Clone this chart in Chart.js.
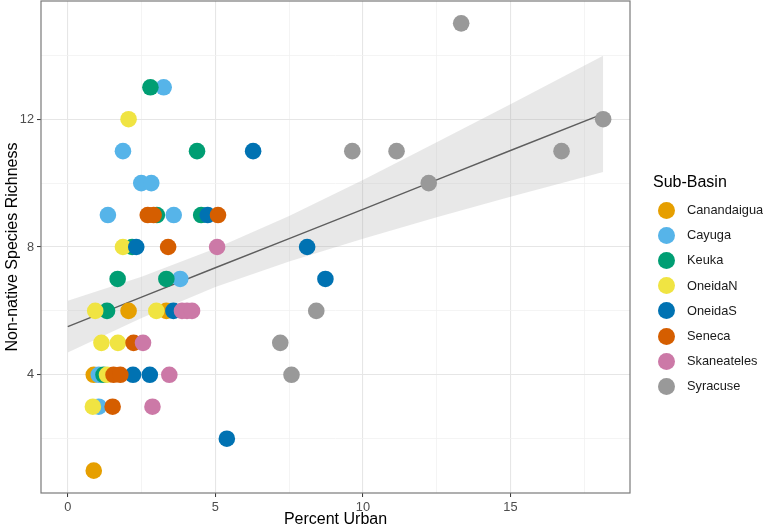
<!DOCTYPE html>
<html lang="en">
<head>
<meta charset="UTF-8">
<title>Non-native Species Richness vs Percent Urban</title>
<script src="https://cdn.jsdelivr.net/npm/chart.js"></script>
<style>
    body {
        margin: 0;
        background: #fff;
        font-family: "Liberation Sans", Arial, sans-serif;
    }
    #wrap {
        position: relative;
        width: 763px;
        height: 529px;
    }
    #chart {
        display: block;
    }
    #legend {
        position: absolute;
        left: 653px;
        top: 0;
    }
    #legend .title {
        position: absolute;
        left: 0;
        top: 172px;
        font-size: 16px;
        line-height: 19px;
        color: #000;
        white-space: nowrap;
    }
    #legend .item {
        position: absolute;
        left: 0;
        height: 18px;
        line-height: 18px;
        font-size: 12.8px;
        color: #1a1a1a;
        white-space: nowrap;
    }
    #legend .dot {
        position: absolute;
        left: 4.5px;
        top: 0.5px;
        width: 17px;
        height: 17px;
        border-radius: 50%;
    }
    #legend .label {
        position: absolute;
        left: 34px;
        top: 0;
    }
</style>
</head>
<body>
<div id="wrap">
    <canvas id="chart" width="763" height="529"></canvas>
    <div id="legend"></div>
</div>

<script>
    // sub-basins, in legend order, and their colours
    const subBasins = ['Canandaigua', 'Cayuga', 'Keuka', 'OneidaN', 'OneidaS', 'Seneca', 'Skaneateles', 'Syracuse'];
    const basinColors = ['#E69F00', '#56B4E9', '#009E73', '#F0E442', '#0072B2', '#D55E00', '#CC79A7', '#999999'];

    // points: percent urban (x) and richness (y)
    const canandaiguaX = [2.06, 3.34, 0.88, 0.88];
    const canandaiguaY = [6, 6, 4, 1];
    const cayugaX = [3.25, 1.87, 2.49, 2.83, 1.36, 3.59, 3.81, 1.05, 1.05];
    const cayugaY = [13, 11, 10, 10, 9, 9, 7, 4, 3];
    const keukaX = [2.8, 4.38, 3.02, 4.52, 2.18, 1.69, 3.34, 1.33, 1.21];
    const keukaY = [13, 11, 9, 9, 8, 7, 7, 6, 4];
    const oneidaNX = [2.06, 1.87, 0.93, 3.0, 1.14, 1.70, 1.33, 0.85];
    const oneidaNY = [12, 8, 6, 6, 5, 5, 4, 3];
    const oneidaSX = [6.28, 4.74, 2.32, 8.11, 8.73, 3.58, 2.21, 2.78, 5.39];
    const oneidaSY = [11, 9, 8, 8, 7, 6, 4, 4, 2];
    const senecaX = [2.71, 2.91, 5.09, 3.4, 2.23, 1.55, 1.78, 1.52];
    const senecaY = [9, 9, 9, 8, 5, 4, 4, 3];
    const skaneatelesX = [5.06, 3.87, 4.04, 4.21, 2.55, 3.44, 2.87];
    const skaneatelesY = [8, 6, 6, 6, 5, 4, 3];
    const syracuseX = [13.33, 18.14, 9.64, 11.14, 16.73, 12.23, 8.42, 7.2, 7.58];
    const syracuseY = [15, 12, 11, 11, 11, 10, 6, 5, 4];

    // linear fit and its confidence band
    const fitX = [0, 2.5, 5, 7.5, 10, 12.5, 15, 18.14];
    const fitY = [5.51, 6.43, 7.35, 8.26, 9.18, 10.10, 11.02, 12.17];
    const bandLow = [4.70, 5.78, 6.75, 7.55, 8.26, 8.93, 9.57, 10.35];
    const bandHigh = [6.32, 7.07, 7.95, 8.97, 10.10, 11.28, 12.47, 13.99];

    // axis breaks
    const xMajor = [0, 5, 10, 15];
    const xMinor = [2.5, 7.5, 12.5, 17.5];
    const yMajor = [4, 8, 12];
    const yMinor = [2, 6, 10, 14];

    const seriesX = [canandaiguaX, cayugaX, keukaX, oneidaNX, oneidaSX, senecaX, skaneatelesX, syracuseX];
    const seriesY = [canandaiguaY, cayugaY, keukaY, oneidaNY, oneidaSY, senecaY, skaneatelesY, syracuseY];

    function toPoints(xs, ys) {
        return xs.map((x, i) => ({ x: x, y: ys[i] }));
    }

    const datasets = subBasins.map((name, i) => ({
        type: 'scatter',
        label: name,
        data: toPoints(seriesX[i], seriesY[i]),
        backgroundColor: basinColors[i],
        borderColor: basinColors[i],
        borderWidth: 0,
        pointRadius: 8.3,
        pointHoverRadius: 8.3,
        order: subBasins.length - i   // later basins drawn on top
    }));

    datasets.push({
        type: 'line',
        label: 'fit',
        data: toPoints(fitX, fitY),
        borderColor: '#5e5e5e',
        borderWidth: 1.4,
        pointRadius: 0,
        fill: false,
        order: 20
    });
    datasets.push({
        type: 'line',
        label: 'upper',
        data: toPoints(fitX, bandHigh),
        borderWidth: 0,
        borderColor: 'rgba(0,0,0,0)',
        backgroundColor: 'rgba(160,160,160,0.24)',
        pointRadius: 0,
        fill: '+1',
        order: 30
    });
    datasets.push({
        type: 'line',
        label: 'lower',
        data: toPoints(fitX, bandLow),
        borderWidth: 0,
        borderColor: 'rgba(0,0,0,0)',
        pointRadius: 0,
        fill: false,
        order: 31
    });

    const isMajor = (list, v) => list.some(m => Math.abs(m - v) < 1e-6);

    // grey panel border on all four sides
    const panelBorder = {
        id: 'panelBorder',
        afterDraw(chart) {
            const a = chart.chartArea;
            const ctx = chart.ctx;
            ctx.save();
            ctx.strokeStyle = '#7a7a7a';
            ctx.lineWidth = 1.2;
            ctx.strokeRect(a.left, a.top, a.right - a.left, a.bottom - a.top);
            ctx.restore();
        }
    };

    const tickFont = { family: '"Liberation Sans", Arial, sans-serif', size: 12.8 };
    const titleFont = { family: '"Liberation Sans", Arial, sans-serif', size: 16 };

    new Chart(document.getElementById('chart'), {
        type: 'scatter',
        data: { datasets: datasets },
        options: {
            responsive: false,
            animation: false,
            devicePixelRatio: 1,
            layout: {
                autoPadding: false,
                padding: { top: 1, right: 133, left: 0, bottom: 0 }
            },
            plugins: {
                legend: { display: false },
                tooltip: { enabled: false }
            },
            scales: {
                x: {
                    type: 'linear',
                    min: -0.907,
                    max: 19.05,
                    afterBuildTicks: axis => {
                        axis.ticks = xMajor.concat(xMinor).sort((a, b) => a - b).map(v => ({ value: v }));
                    },
                    afterFit: axis => {
                        axis.height = 36;
                        axis.paddingLeft = 0;
                        axis.paddingRight = 0;
                    },
                    ticks: {
                        autoSkip: false,
                        maxRotation: 0,
                        padding: 3,
                        color: '#4d4d4d',
                        font: tickFont,
                        callback: v => isMajor(xMajor, v) ? String(v) : ''
                    },
                    grid: {
                        color: ctx => isMajor(xMajor, ctx.tick.value) ? '#e6e6e6' : '#f1f1f1',
                        lineWidth: ctx => isMajor(xMajor, ctx.tick.value) ? 1.1 : 0.8,
                        tickLength: 4,
                        tickColor: ctx => isMajor(xMajor, ctx.tick.value) ? '#333333' : 'rgba(0,0,0,0)',
                        tickWidth: 1
                    },
                    border: { display: false },
                    title: {
                        display: true,
                        text: 'Percent Urban',
                        color: '#000',
                        font: titleFont,
                        padding: { top: 0, bottom: 0 }
                    }
                },
                y: {
                    type: 'linear',
                    min: 0.3,
                    max: 15.7,
                    afterBuildTicks: axis => {
                        axis.ticks = yMajor.concat(yMinor).sort((a, b) => a - b).map(v => ({ value: v }));
                    },
                    afterFit: axis => {
                        axis.width = 41;
                        axis.paddingTop = 0;
                        axis.paddingBottom = 0;
                    },
                    ticks: {
                        autoSkip: false,
                        padding: 3,
                        color: '#4d4d4d',
                        font: tickFont,
                        callback: v => isMajor(yMajor, v) ? String(v) : ''
                    },
                    grid: {
                        color: ctx => isMajor(yMajor, ctx.tick.value) ? '#e6e6e6' : '#f1f1f1',
                        lineWidth: ctx => isMajor(yMajor, ctx.tick.value) ? 1.1 : 0.8,
                        tickLength: 4,
                        tickColor: ctx => isMajor(yMajor, ctx.tick.value) ? '#333333' : 'rgba(0,0,0,0)',
                        tickWidth: 1
                    },
                    border: { display: false },
                    title: {
                        display: true,
                        text: 'Non-native Species Richness',
                        color: '#000',
                        font: titleFont,
                        padding: { top: 3, bottom: 0 }
                    }
                }
            }
        },
        plugins: [panelBorder]
    });

    // legend as html, built from the same names and colours
    const legend = document.getElementById('legend');
    const title = document.createElement('div');
    title.className = 'title';
    title.textContent = 'Sub-Basin';
    legend.appendChild(title);
    subBasins.forEach((name, i) => {
        const item = document.createElement('div');
        item.className = 'item';
        item.style.top = (201 + i * 25.2) + 'px';
        const dot = document.createElement('span');
        dot.className = 'dot';
        dot.style.background = basinColors[i];
        const label = document.createElement('span');
        label.className = 'label';
        label.textContent = name;
        item.appendChild(dot);
        item.appendChild(label);
        legend.appendChild(item);
    });
</script>
</body>
</html>
